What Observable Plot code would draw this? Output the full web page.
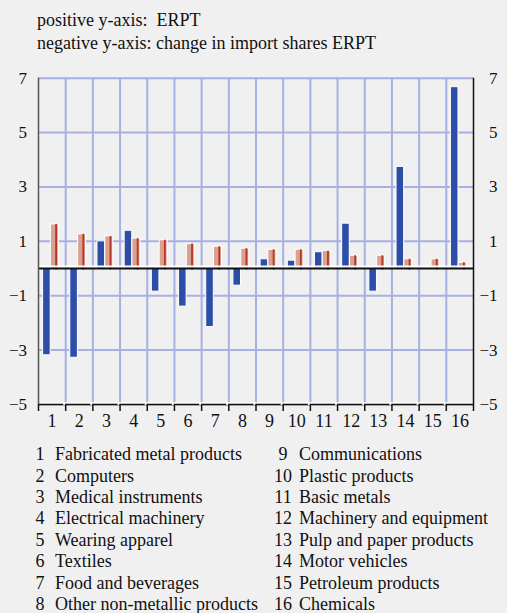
<!DOCTYPE html>
<html><head><meta charset="utf-8">
<script src="https://cdn.jsdelivr.net/npm/d3@7"></script>
<script src="https://cdn.jsdelivr.net/npm/@observablehq/plot@0.6"></script>
<style>
html,body{margin:0;padding:0;background:#f0f0f0;}
body{width:507px;height:613px;position:relative;overflow:hidden;font-family:"Liberation Serif","Times New Roman",serif;color:#111;}
#title{position:absolute;left:37px;top:9.3px;font-size:18px;line-height:22.7px;white-space:pre;}
#chart{position:absolute;left:0;top:55px;}
#legend{position:absolute;left:0;top:0;font-size:18px;line-height:14px;}
.num{position:absolute;width:20px;text-align:center;white-space:nowrap;}
.name{position:absolute;white-space:nowrap;}
</style></head><body>
<div id="title"></div><div id="chart"></div><div id="legend"></div>
<script>
const titleLines = ["positive y-axis:  ERPT", "negative y-axis: change in import shares ERPT"];
const categories = ["Fabricated metal products","Computers","Medical instruments","Electrical machinery","Wearing apparel","Textiles","Food and beverages","Other non-metallic products","Communications","Plastic products","Basic metals","Machinery and equipment","Pulp and paper products","Motor vehicles","Petroleum products","Chemicals"];
const categoryNumbers = [1,2,3,4,5,6,7,8,9,10,11,12,13,14,15,16];
// blue bars
const importShareERPT = [-3.19,-3.28,1.0,1.39,-0.85,-1.40,-2.15,-0.63,0.34,0.29,0.60,1.65,-0.85,3.74,0,6.67];
// salmon bars
const erpt = [1.62,1.26,1.18,1.10,1.04,0.90,0.80,0.73,0.69,0.69,0.64,0.47,0.47,0.34,0.34,0.21];
const yTicks = [7,5,3,1,-1,-3,-5];

document.getElementById("title").textContent = titleLines.join("\n");

const data = categories.map((name,k)=>({i:categoryNumbers[k], name, blue: importShareERPT[k], salmon: erpt[k]}));
const boundaries = d3.range(0, 17).map(k => k + 0.5);
const inner = boundaries.slice(1, -1);
const grid = "#a7afe3";

const plot = Plot.plot({
  width: 507, height: 380,
  marginTop: 22.7, marginBottom: 31, marginLeft: 38, marginRight: 34,
  style: {background:"#f0f0f0", fontFamily: "'Liberation Serif', 'Times New Roman', serif", fontSize: "17px", color:"#111", overflow:"visible"},
  x: {type:"linear", domain:[0.5,16.5], axis:null, label:null},
  y: {domain:[-5,7], axis:null, label:null},
  marks: [
    Plot.ruleY(yTicks, {stroke: grid, strokeWidth: 2}),
    Plot.ruleX(inner, {stroke: grid, strokeWidth: 2}),
    Plot.rectY(data.filter(d=>d.blue!==0), {x1: d=>d.i-0.5, x2: d=>d.i+0.5, y1: 0, y2: "blue", insetLeft: 4.6, insetRight: 15, fill: "#2c4ea8", stroke: "white", strokeWidth: 1}),
    Plot.rectY(data, {x1: d=>d.i-0.5, x2: d=>d.i+0.5, y1: 0, y2: "salmon", insetLeft: 12.4, insetRight: 6.8, fill: "#d9a192", stroke: "white", strokeWidth: 1}),
    Plot.ruleX(data, {x: "i", y1: 0, y2: "salmon", dx: 4, stroke: "#bb3526", strokeWidth: 1.8, insetTop: 1.5}),
    Plot.ruleY([0], {stroke: "white", strokeWidth: 2, dy: -2}),
    Plot.ruleY([0], {stroke: "#111", strokeWidth: 2}),
    Plot.ruleY([-5], {stroke: "white", strokeWidth: 1.5, dy: -1.5}),
    Plot.ruleY([-5], {stroke: "#111", strokeWidth: 1.5}),
    Plot.ruleX(inner, {y1: -5, y2: -5, insetTop: -1, insetBottom: -1, dx: -1.5, stroke: "white", strokeWidth: 2}),
    Plot.ruleX(boundaries, {y1: -5, y2: -5, insetBottom: -7, stroke: "#111", strokeWidth: 1.5}),
    Plot.ruleX([0.5], {y1: -5, y2: 7, stroke: "#555", strokeWidth: 1.5}),
    Plot.ruleX([16.5], {y1: -5, y2: 7, stroke: "#111", strokeWidth: 1.5}),
    Plot.axisY({anchor: "left", ticks: yTicks, tickSize: 0, tickPadding: 11.5, label: null}),
    Plot.axisY({anchor: "right", ticks: yTicks, tickSize: 0, tickPadding: 24, textAnchor: "end", label: null}),
    Plot.axisX({ticks: categoryNumbers, tickSize: 0, tickPadding: 10, fontSize: 18, tickFormat: d => String(d), label: null})
  ]
});
document.getElementById("chart").appendChild(plot);

const legend = document.getElementById("legend");
const top0 = 447.2, pitch = 21.43;
data.forEach((d, k) => {
  const col = k < 8 ? 0 : 1;
  const row = k % 8;
  const num = document.createElement("div");
  num.className = "num";
  num.textContent = d.i;
  num.style.top = (top0 + row*pitch) + "px";
  num.style.left = (col === 0 ? 30 : 273) + "px";
  const nm = document.createElement("div");
  nm.className = "name";
  nm.textContent = d.name;
  nm.style.top = (top0 + row*pitch) + "px";
  nm.style.left = (col === 0 ? 55 : 299) + "px";
  legend.appendChild(num);
  legend.appendChild(nm);
});
</script>
</body></html>
